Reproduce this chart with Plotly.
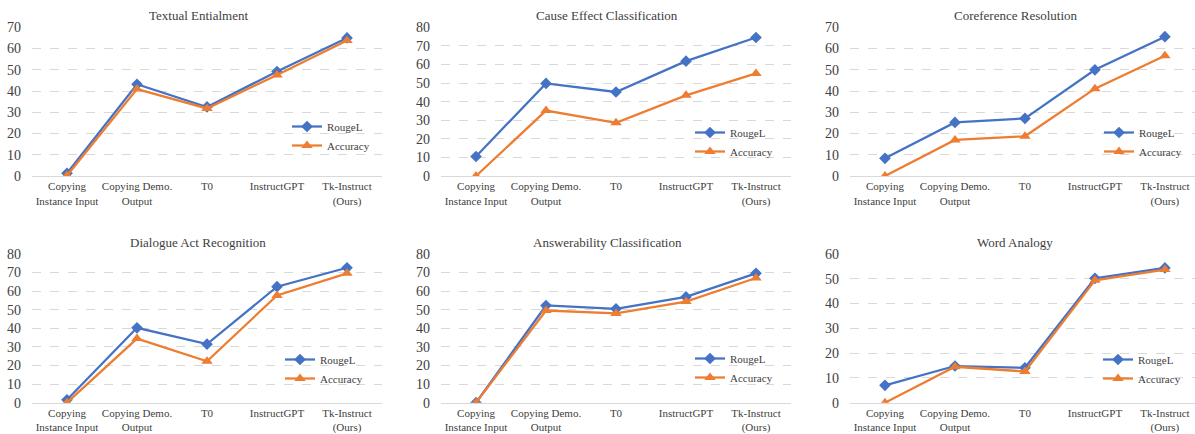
import plotly.graph_objects as go

categories = ["Copying<br>Instance Input", "Copying Demo.<br>Output", "T0", "InstructGPT", "Tk-Instruct<br>(Ours)"]

titles = ["Textual Entialment", "Cause Effect Classification", "Coreference Resolution",
          "Dialogue Act Recognition", "Answerability Classification", "Word Analogy"]

rouge_textual = [1.3, 43.2, 32.5, 49.2, 65.0]
acc_textual = [0.2, 40.9, 31.8, 47.5, 63.8]

rouge_cause = [10.5, 49.8, 45.2, 61.8, 74.5]
acc_cause = [0.0, 35.2, 28.6, 43.4, 55.2]

rouge_coref = [8.3, 25.2, 27.1, 50.0, 65.6]
acc_coref = [0.0, 17.0, 18.7, 41.1, 56.6]

rouge_dialogue = [1.6, 40.3, 31.5, 62.4, 72.6]
acc_dialogue = [0.0, 34.5, 22.3, 57.7, 69.6]

rouge_answer = [0.0, 52.3, 50.5, 56.9, 69.6]
acc_answer = [0.0, 49.6, 48.0, 54.4, 67.1]

rouge_analogy = [7.0, 14.8, 14.1, 50.2, 54.4]
acc_analogy = [0.0, 14.5, 12.6, 49.4, 53.7]

y_max = [70, 80, 70, 80, 80, 60]

rouge_all = [rouge_textual, rouge_cause, rouge_coref, rouge_dialogue, rouge_answer, rouge_analogy]
acc_all = [acc_textual, acc_cause, acc_coref, acc_dialogue, acc_answer, acc_analogy]

W, H = 1195, 434
BLUE = "#4472C4"
ORANGE = "#ED7D31"
TXT = "#404040"
FONT = "Liberation Serif"

# pixel layouts
x_px = [(32, 382), (441, 791), (850, 1195), (32, 382), (441, 791), (850, 1195)]
x_rng = [(-0.5, 4.5), (-0.5, 4.5), (-0.5, 4.43), (-0.5, 4.5), (-0.5, 4.5), (-0.5, 4.43)]
y_px = [(27.3, 176.0), (27.3, 176.0), (27.3, 176.0), (254.0, 402.7), (254.0, 402.7), (254.0, 402.7)]
title_pos = [(198, 15), (607, 15), (1016, 15), (198, 242), (607, 242), (1015, 242)]
legend_pos = [(287, 112), (690, 118), (1099, 118), (280, 345), (690, 344), (1098, 345)]

fig = go.Figure()
layout = dict(
    width=W, height=H, margin=dict(l=0, r=0, t=0, b=0, autoexpand=False),
    paper_bgcolor="white", plot_bgcolor="white",
    font=dict(family=FONT, color=TXT),
    annotations=[],
)

for i in range(6):
    n = "" if i == 0 else str(i + 1)
    xa, ya = "x" + n, "y" + n
    lg = "legend" + n
    fig.add_trace(go.Scatter(
        x=categories, y=rouge_all[i], name="RougeL", mode="lines+markers",
        line=dict(color=BLUE, width=2.25), marker=dict(symbol="diamond", size=9, color=BLUE),
        xaxis=xa, yaxis=ya, legend=lg, showlegend=True))
    fig.add_trace(go.Scatter(
        x=categories, y=acc_all[i], name="Accuracy", mode="lines+markers",
        line=dict(color=ORANGE, width=2.25), marker=dict(symbol="triangle-up", size=10, color=ORANGE),
        xaxis=xa, yaxis=ya, legend=lg, showlegend=True))
    x0, x1 = x_px[i]
    y0, y1 = y_px[i]
    layout["xaxis" + n] = dict(
        domain=[x0 / W, x1 / W], anchor=ya, type="category", range=list(x_rng[i]),
        showgrid=False, showline=True, linecolor="#D9D9D9", linewidth=1,
        ticks="", tickfont=dict(family=FONT, size=11, color=TXT), tickangle=0,
        ticklabelstandoff=0, automargin=False,
    )
    layout["yaxis" + n] = dict(
        domain=[1 - y1 / H, 1 - y0 / H], anchor=xa, range=[0, y_max[i]], dtick=10,
        showgrid=True, gridcolor="#D9D9D9", griddash="dash", gridwidth=1,
        zeroline=False, showline=False, ticks="", automargin=False,
        tickfont=dict(family=FONT, size=14, color=TXT), ticklabelstandoff=10,
    )
    tx, ty = title_pos[i]
    layout["annotations"].append(dict(
        text=titles[i], x=tx / W, y=1 - ty / H, xref="paper", yref="paper",
        xanchor="center", yanchor="middle", showarrow=False,
        font=dict(family=FONT, size=13, color=TXT)))
    lx, ly = legend_pos[i]
    layout[lg] = dict(
        x=lx / W, y=1 - ly / H, xanchor="left", yanchor="top",
        bgcolor="rgba(0,0,0,0)", font=dict(family=FONT, size=11, color=TXT),
        itemwidth=30, tracegroupgap=0,
    )

fig.update_layout(**layout)
fig.write_html("out.html", config={"displayModeBar": False},
               post_script="document.body.style.margin='0px';document.body.style.overflow='hidden';")
